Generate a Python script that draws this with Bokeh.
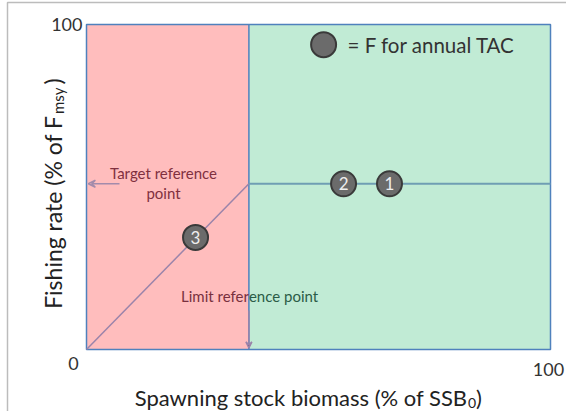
import math
from bokeh.plotting import figure
from bokeh.models import Range1d, Arrow, VeeHead
from bokeh.core.properties import value
from bokeh.embed import file_html
from bokeh.resources import INLINE

# ---- data ----
limit_ssb = 35          # limit reference point (% of SSB0)
target_f = 51           # target fishing rate (% of Fmsy)
x_max = 100
y_max = 100
point_labels = ["1", "2", "3"]
point_x = [65.3, 55.4, 23.5]
point_y = [51, 51, 34.5]
legend_x = [51.1]
legend_y = [93.8]
legend_text = "= F for annual TAC"
x_tick_labels = ["100"]
y_tick_labels = ["100"]
origin_label = "0"
x_label_main = "Spawning stock biomass (% of SSB"
x_label_sub = "0"
y_label_main = "Fishing rate (% of F"
y_label_sub = "msy"
target_text = ["Target reference", "point"]
limit_text = ["Limit refer", "ence point"]   # one phrase, coloured by the zone behind it

FONT = "Lato"
W, H = 566, 411
# plot box in canvas pixels (layout)
PL, PR, PT, PB = 86, 550, 24, 349
sx = (PR - PL) / x_max
sy = (PB - PT) / y_max

def dx(px):  # canvas x -> data x
    return (px - PL) / sx

def dy(py):  # canvas y -> data y
    return (PB - py) / sy

p = figure(width=W, height=H, output_backend="svg", toolbar_location=None,
           x_range=Range1d(dx(0), dx(W)), y_range=Range1d(dy(H), dy(0)),
           min_border=0, min_border_left=0, min_border_right=0, min_border_top=0, min_border_bottom=0)
p.axis.visible = False
p.xgrid.visible = False
p.ygrid.visible = False
p.outline_line_color = None
p.background_fill_color = "white"
p.border_fill_color = "white"

# outer picture frame
p.line(x=[dx(7), dx(7), dx(W + 5)], y=[dy(H + 5), dy(2), dy(2)], line_color="#bcbcbc", line_width=1.5)

# regions
p.quad(left=[0], right=[limit_ssb], bottom=[0], top=[y_max], fill_color="#ffbdbd", line_color=None)
p.quad(left=[limit_ssb], right=[x_max], bottom=[0], top=[y_max], fill_color="#c1ebd5", line_color=None)

# limit arrow (under divider)
p.add_layout(Arrow(end=VeeHead(size=6, line_color="#9b84aa", line_width=1.5),
                   x_start=limit_ssb, y_start=12, x_end=limit_ssb, y_end=0.5,
                   line_color="#9b84aa", line_width=1.5))

# divider and plot border
p.segment(x0=[limit_ssb], y0=[0], x1=[limit_ssb], y1=[y_max], line_color="#4f81bd", line_width=1.5)
p.quad(left=[0], right=[x_max], bottom=[0], top=[y_max], fill_color=None,
       line_color="#4f81bd", line_width=1.5)

# harvest control rule
p.line(x=[0, limit_ssb], y=[0, target_f], line_color="#9b84aa", line_width=1.5)
p.line(x=[limit_ssb, x_max], y=[target_f, target_f], line_color="#6f9eb3", line_width=2)

# target arrow
p.add_layout(Arrow(end=VeeHead(size=7, line_color="#a38bab", line_width=1.5, fill_color=None),
                   x_start=dx(119), y_start=target_f, x_end=0.4, y_end=target_f,
                   line_color="#a38bab", line_width=1.5))

# points
p.scatter(x=point_x, y=point_y, size=25, fill_color="#6b6b6b", line_color="#3a3a3a", line_width=2)
p.text(x=point_x, y=point_y, text=point_labels, text_align="center", text_baseline="middle",
       text_font=value(FONT), text_font_size="17px", text_color="#eeeeee")

# legend
p.scatter(x=legend_x, y=legend_y, size=25, fill_color="#6b6b6b", line_color="#3a3a3a", line_width=2)
p.text(x=[dx(347)], y=legend_y, text=[legend_text], text_align="left", text_baseline="middle",
       text_font=value(FONT), text_font_size="20.5px", text_color="#333333")

# annotation texts
p.text(x=[dx(163), dx(163)], y=[dy(172), dy(192)], text=target_text, text_align="center",
       text_baseline="middle", text_font=value(FONT), text_font_size="15px", text_color="#80303f")
p.text(x=[limit_ssb], y=[dy(295)], text=[limit_text[0]], text_align="right",
       text_baseline="middle", text_font=value(FONT), text_font_size="15px", text_color="#78303e")
p.text(x=[limit_ssb], y=[dy(295)], text=[limit_text[1]], text_align="left",
       text_baseline="middle", text_font=value(FONT), text_font_size="15px", text_color="#2b5c47")

# tick labels
p.text(x=[dx(82)], y=[y_max], text=y_tick_labels, text_align="right", text_baseline="middle",
       text_font=value(FONT), text_font_size="18px", text_color="#333333")
p.text(x=[dx(548)], y=[dy(368.5)], text=x_tick_labels, text_align="center", text_baseline="middle",
       text_font=value(FONT), text_font_size="18px", text_color="#333333")
p.text(x=[dx(73)], y=[dy(362.5)], text=[origin_label], text_align="center", text_baseline="middle",
       text_font=value(FONT), text_font_size="18px", text_color="#333333")

def lab(px, py, text, size, align, angle=0.0):
    p.text(x=[dx(px)], y=[dy(py)], text=[text], text_align=align, text_baseline="alphabetic",
           angle=angle, text_font=value(FONT), text_font_size=size, text_color="#222222")

# x axis title
lab(467, 397, x_label_main, "22px", "right")
lab(467.5, 402, x_label_sub, "14px", "left")
lab(475.5, 397, ")", "22px", "left")

# y axis title (rotated)
lab(52, 115, y_label_main, "23px", "right", math.pi / 2)
lab(57, 113.5, y_label_sub, "15px", "left", math.pi / 2)
lab(52, 84, ")", "23px", "left", math.pi / 2)

open("out.html", "w").write(file_html(p, INLINE))
